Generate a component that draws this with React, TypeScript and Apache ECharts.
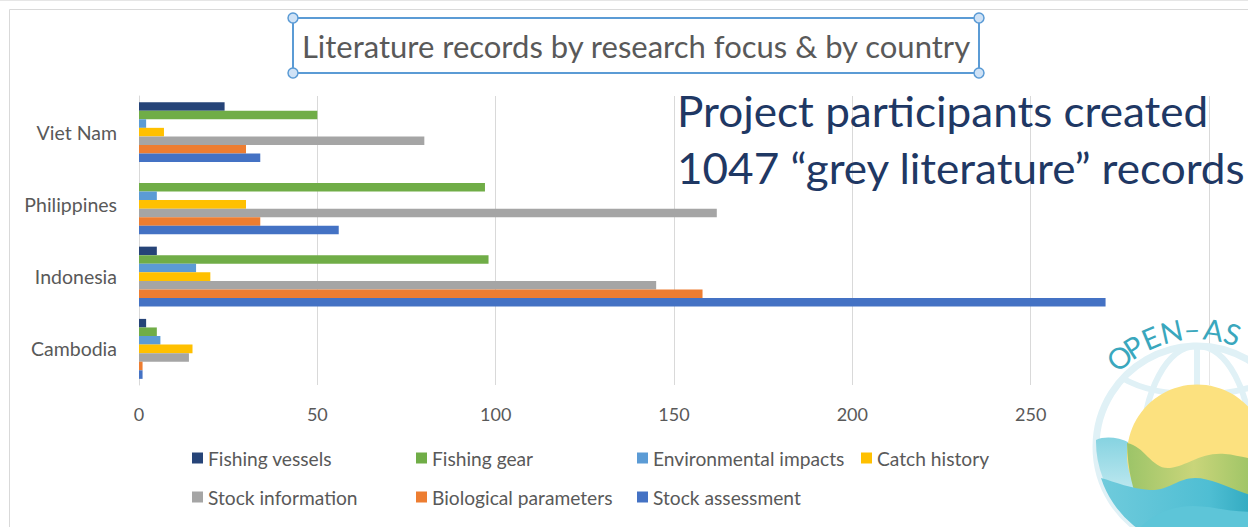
import React, { useEffect, useRef } from 'react';
import * as echarts from 'echarts';

// ---------- data ----------
const categories = ['Cambodia', 'Indonesia', 'Philippines', 'Viet Nam'];
const seriesNames = [
  'Fishing vessels',
  'Fishing gear',
  'Environmental impacts',
  'Catch history',
  'Stock information',
  'Biological parameters',
  'Stock assessment',
];
// values in category order: Cambodia, Indonesia, Philippines, Viet Nam
const fishingVessels = [2, 5, 0, 24];
const fishingGear = [5, 98, 97, 50];
const environmentalImpacts = [6, 16, 5, 2];
const catchHistory = [15, 20, 30, 7];
const stockInformation = [14, 145, 162, 80];
const biologicalParameters = [1, 158, 34, 30];
const stockAssessment = [1, 271, 56, 34];
const xMin = 0;
const xMax = 300;
const xInterval = 50;
const titleText = 'Literature records by research focus & by country';
const noteLines = ['Project participants created', '1047 \u201cgrey literature\u201d records'];
const logoLetters = ['O', 'P', 'E', 'N', '\u2013', 'A', 'S'];
const logoLetterAngles = [-41, -32.5, -23, -12.5, -2.5, 8, 17.5];

// ---------- styles ----------
const seriesValues = [
  fishingVessels,
  fishingGear,
  environmentalImpacts,
  catchHistory,
  stockInformation,
  biologicalParameters,
  stockAssessment,
];
const seriesColors = ['#264478', '#70AD47', '#5B9BD5', '#FFC000', '#A5A5A5', '#ED7D31', '#4472C4'];
const legendPos: [number, number][] = [
  [192, 448.5],
  [416, 448.5],
  [637, 448.5],
  [861, 448.5],
  [192, 487.5],
  [416, 487.5],
  [637, 487.5],
];
const FONT = 'Lato, "Open Sans", sans-serif';
const TEXT_GREY = '#595959';

let shapesRegistered = false;
function registerShapes() {
  if (shapesRegistered) return;
  shapesRegistered = true;
  const g: any = echarts.graphic;
  g.registerShape(
    'logoBase',
    g.extendPath('M 1096 440 C 1105 436 1118 437 1130 443 L 1298 443 A 101 101 0 1 1 1096 440 Z', {})
  );
  g.registerShape(
    'logoGreen',
    g.extendPath(
      'M 1127 443 C 1145 446 1152 470 1170 468 C 1188 466 1200 452 1225 454 C 1240 455 1255 462 1275 460 L 1275 535 L 1160 535 C 1140 515 1128 485 1127 443 Z',
      {}
    )
  );
  g.registerShape(
    'logoWave',
    g.extendPath(
      'M 1101 478 C 1115 482 1132 489 1150 490 C 1168 491 1178 478 1195 478 C 1216 478 1236 494 1281 503 A 101 101 0 0 1 1101 478 Z',
      {}
    )
  );
  g.registerShape(
    'logoWave2',
    g.extendPath(
      'M 1138 530 C 1150 516 1170 506 1193 506 C 1218 506 1238 516 1275 510 L 1275 540 L 1138 540 Z',
      {}
    )
  );
}

function buildOption(): any {
  // in a horizontal bar chart ECharts draws the first series at the top of each group
  const series = seriesNames.map((name, i) => ({
    name,
    type: 'bar',
    data: seriesValues[i],
    barGap: '0%',
    barCategoryGap: '17%',
    itemStyle: { color: seriesColors[i] },
    z: 2,
  }));

  const legends = seriesNames.map((name, i) => ({
    data: [name],
    left: legendPos[i][0],
    top: legendPos[i][1],
    padding: 0,
    itemGap: 0,
    itemWidth: 11,
    itemHeight: 11,
    icon: 'rect',
    selectedMode: false,
    textStyle: { color: TEXT_GREY, fontSize: 19.2, fontFamily: FONT },
  }));

  const ringColor = '#E0F1F6';
  const cx = 1197;
  const cy = 447;
  const letterR = 119;

  const letters = logoLetters.map((ch, i) => {
    const a = (logoLetterAngles[i] * Math.PI) / 180;
    return {
      type: 'text',
      x: cx + letterR * Math.sin(a),
      y: cy - letterR * Math.cos(a),
      rotation: -a,
      z: 120,
      silent: true,
      style: {
        text: ch,
        fill: '#3AA7BD',
        fontSize: 29,
        fontFamily: FONT,
        align: 'center',
        verticalAlign: 'middle',
      },
    };
  });

  const graphic = [
    // chart frame
    {
      type: 'rect',
      z: -10,
      silent: true,
      shape: { x: 9.5, y: 9.5, width: 1400, height: 700 },
      style: { fill: 'none', stroke: '#D9D9D9', lineWidth: 1 },
    },
    {
      type: 'line',
      z: -10,
      silent: true,
      shape: { x1: 0, y1: 0.5, x2: 1248, y2: 0.5 },
      style: { stroke: '#E6E6E6', lineWidth: 1 },
    },
    // title selection box
    {
      type: 'rect',
      z: 50,
      silent: true,
      shape: { x: 293, y: 18, width: 686, height: 55 },
      style: { fill: 'none', stroke: '#5B9BD5', lineWidth: 2 },
    },
    ...[
      [293, 18],
      [979, 18],
      [293, 73],
      [979, 73],
    ].map(([x, y]) => ({
      type: 'circle',
      z: 51,
      silent: true,
      shape: { cx: x, cy: y, r: 5 },
      style: { fill: '#CFE2F6', stroke: '#5B9BD5', lineWidth: 1.5 },
    })),
    // overlay note
    ...noteLines.map((t, i) => ({
      type: 'text',
      x: 677,
      y: 110 + i * 57,
      scaleX: 1.025,
      z: 60,
      silent: true,
      style: {
        text: t,
        fill: '#1F3864',
        fontSize: 43,
        fontFamily: FONT,
        align: 'left',
        verticalAlign: 'middle',
      },
    })),
    // logo
    {
      type: 'circle',
      z: 100,
      silent: true,
      shape: { cx, cy, r: 101 },
      style: { fill: 'rgba(255,255,255,0.35)', stroke: ringColor, lineWidth: 7 },
    },
    {
      type: 'ellipse',
      z: 101,
      silent: true,
      shape: { cx, cy, rx: 54, ry: 101 },
      style: { fill: 'none', stroke: ringColor, lineWidth: 6 },
    },
    {
      type: 'line',
      z: 101,
      silent: true,
      shape: { x1: cx, y1: 346, x2: cx, y2: 548 },
      style: { stroke: ringColor, lineWidth: 6 },
    },
    {
      type: 'bezierCurve',
      z: 101,
      silent: true,
      shape: { x1: 1122, y1: 378, cpx1: 1160, cpy1: 400, cpx2: 1234, cpy2: 400, x2: 1272, y2: 378 },
      style: { fill: 'none', stroke: ringColor, lineWidth: 6 },
    },
    {
      type: 'logoBase',
      z: 102,
      silent: true,
      style: {
        fill: new echarts.graphic.LinearGradient(0, 0, 0, 1, [
          { offset: 0, color: '#86D3E1' },
          { offset: 0.5, color: '#BDE8EF' },
          { offset: 1, color: '#7DCFDF' },
        ]),
      },
    },
    {
      type: 'circle',
      z: 103,
      silent: true,
      shape: { cx: 1197, cy: 454.5, r: 70 },
      style: { fill: '#FCE17F' },
    },
    {
      type: 'logoGreen',
      z: 104,
      silent: true,
      style: {
        fill: new echarts.graphic.LinearGradient(0, 0, 1, 0, [
          { offset: 0, color: '#9CC468' },
          { offset: 0.45, color: '#C9D57A' },
          { offset: 1, color: '#8DBE5E' },
        ]),
      },
    },
    {
      type: 'logoWave',
      z: 105,
      silent: true,
      style: {
        fill: new echarts.graphic.LinearGradient(0, 0, 1, 0, [
          { offset: 0, color: '#6FCBDC' },
          { offset: 0.6, color: '#4FBED3' },
          { offset: 1, color: '#1E9DB4' },
        ]),
      },
    },
    {
      type: 'logoWave2',
      z: 106,
      silent: true,
      style: { fill: '#5DC5D8' },
    },
    ...letters,
  ];

  return {
    animation: false,
    backgroundColor: '#FFFFFF',
    textStyle: { fontFamily: FONT },
    title: {
      text: titleText,
      left: 636,
      top: 30,
      padding: 0,
      textAlign: 'center',
      textStyle: { color: TEXT_GREY, fontSize: 31, fontWeight: 'normal', fontFamily: FONT },
    },
    legend: legends,
    grid: { left: 139, right: 39, top: 96, bottom: 142, containLabel: false },
    xAxis: {
      type: 'value',
      min: xMin,
      max: xMax,
      interval: xInterval,
      axisLine: { show: false },
      axisTick: { show: false },
      splitLine: { show: true, lineStyle: { color: '#D9D9D9', width: 1 } },
      axisLabel: {
        color: TEXT_GREY,
        fontSize: 18,
        fontFamily: FONT,
        margin: 20,
        formatter: (v: number) => (v === xMax ? '' : String(v)),
      },
    },
    yAxis: {
      type: 'category',
      data: categories,
      axisLine: { show: true, lineStyle: { color: '#D9D9D9', width: 1 } },
      axisTick: { show: false },
      splitLine: { show: false },
      axisLabel: {
        color: TEXT_GREY,
        fontSize: 19.5,
        fontFamily: FONT,
        margin: 22,
        padding: [0, 0, 4, 0],
      },
    },
    series,
    graphic: { elements: graphic },
  };
}

export default function App() {
  const ref = useRef<HTMLDivElement | null>(null);
  useEffect(() => {
    if (!ref.current) return;
    registerShapes();
    const chart = echarts.init(ref.current, undefined, { renderer: 'svg' });
    chart.setOption(buildOption());
    return () => {
      chart.dispose();
    };
  }, []);
  return (
    <div
      ref={ref}
      style={{ position: 'fixed', left: 0, top: 0, width: 1248, height: 527, background: '#fff', overflow: 'hidden' }}
    />
  );
}
